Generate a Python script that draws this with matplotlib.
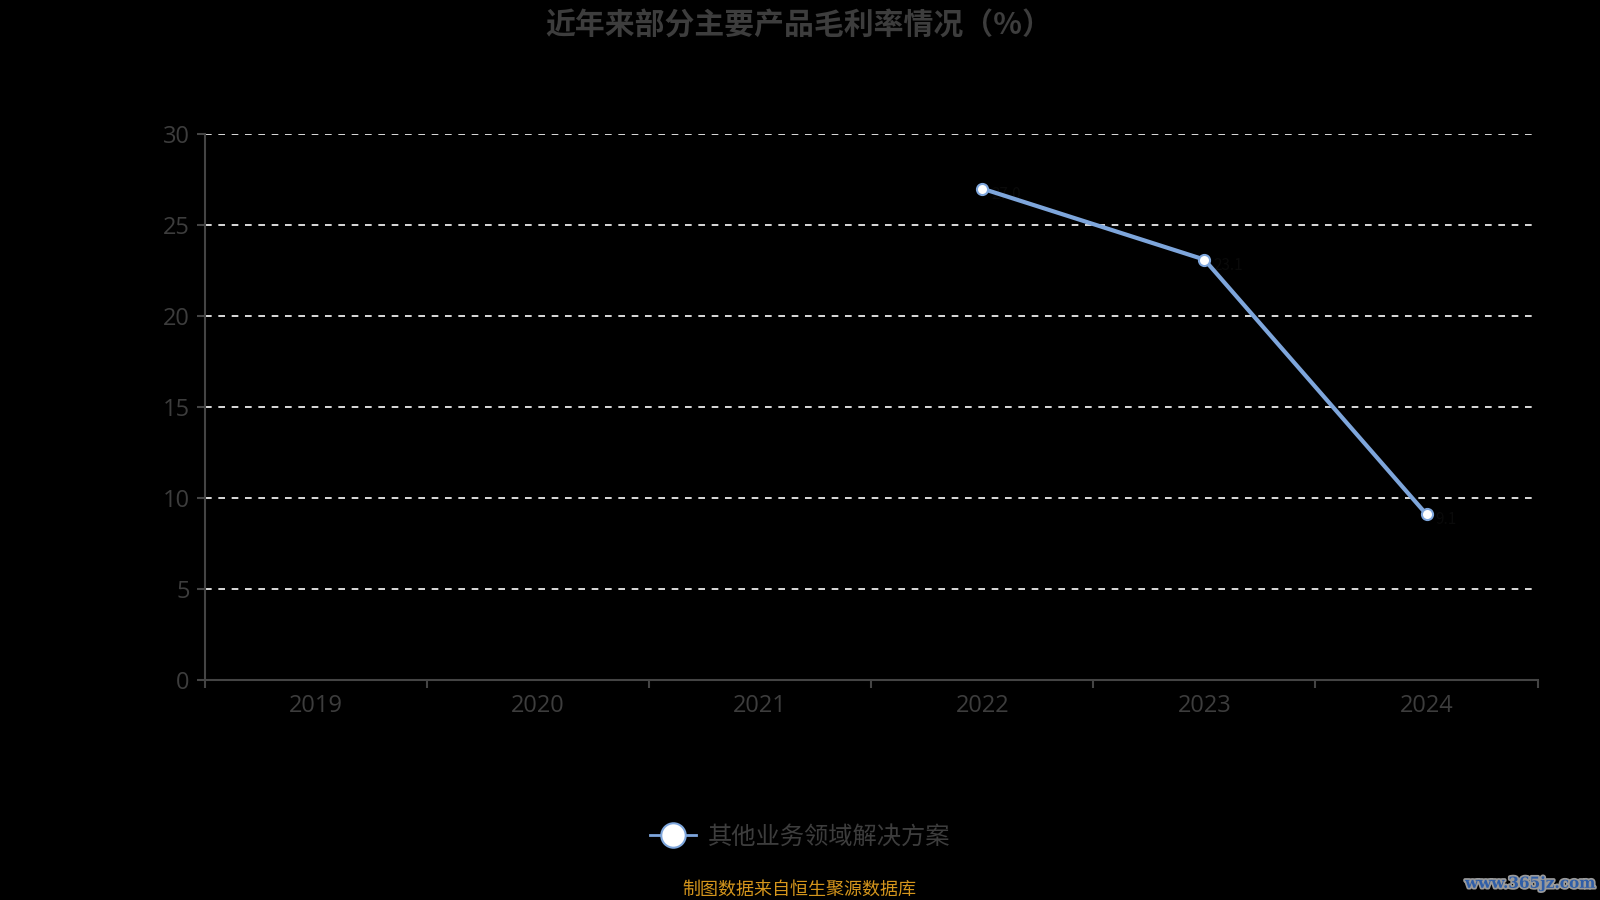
import matplotlib.pyplot as plt
import matplotlib.patheffects as pe
import numpy as np

plt.rcParams['font.family'] = ['Noto Sans CJK SC', 'DejaVu Sans']

years = ['2019', '2020', '2021', '2022', '2023', '2024']
margin = [np.nan, np.nan, np.nan, 27.0, 23.1, 9.1]
series_name = '其他业务领域解决方案'
y_ticks = [0, 5, 10, 15, 20, 25, 30]

line_color = '#7ea6dc'
axis_color = '#444444'
text_color = '#3d3d3d'

fig = plt.figure(figsize=(16, 9), dpi=100, facecolor='black')
ax = fig.add_axes([0.128, 0.2444, 0.833, 0.6067], facecolor='black')

x = np.arange(len(years))
ax.plot(x, margin, color=line_color, linewidth=3, marker='o', markersize=8,
        markerfacecolor='white', markeredgecolor=line_color, markeredgewidth=1.5,
        zorder=3, label=series_name)

# data labels (drawn almost black, hidden under the line as in the original)
for xi, v in zip(x, margin):
    if not np.isnan(v):
        ax.text(xi + 0.04, v - 0.3, f'{v:.1f}', color='#0a0a0a', fontsize=11,
                ha='left', va='center', zorder=2)

ax.set_xlim(-0.5, len(years) - 0.5)
ax.set_ylim(0, 30)
ax.set_yticks(y_ticks)
ax.set_yticklabels([str(t) for t in y_ticks], family=['Open Sans', 'DejaVu Sans'])
for t in y_ticks[1:]:
    ax.axhline(t, color='white', linestyle=(0, (4, 4)), linewidth=1.2, zorder=1)

# category axis: ticks at boundaries, labels centered
ax.set_xticks(np.arange(-0.5, len(years)), minor=False)
ax.set_xticklabels([])
ax.set_xticks(x, minor=True)
ax.set_xticklabels(years, minor=True, family=['Open Sans', 'DejaVu Sans'])
ax.tick_params(axis='x', which='minor', length=0, pad=10, labelsize=17, labelcolor=text_color)
ax.tick_params(axis='x', which='major', length=6, color=axis_color, width=1.5)
ax.tick_params(axis='y', length=6, color=axis_color, width=1.5, labelsize=17,
               labelcolor=text_color, pad=5)

for s in ['top', 'right']:
    ax.spines[s].set_visible(False)
for s in ['left', 'bottom']:
    ax.spines[s].set_color(axis_color)
    ax.spines[s].set_linewidth(1.5)

fig.text(0.4995, 0.972, '近年来部分主要产品毛利率情况（%）', ha='center', va='center',
         fontsize=21.5, fontweight='bold', color=text_color)

leg = fig.legend(loc='center', bbox_to_anchor=(0.5, 0.07), frameon=False,
                 fontsize=17.5, handlelength=1.9, markerscale=2.2, handletextpad=0.5)
for t in leg.get_texts():
    t.set_color(text_color)
for h in leg.legend_handles:
    h.set_linewidth(2)

fig.text(0.4995, 0.012, '制图数据来自恒生聚源数据库', ha='center', va='center',
         fontsize=13, color='#d4951c')

fig.text(0.997, 0.018, 'www.365jz.com', ha='right', va='center', fontsize=11,
         fontweight='bold', color='#2f5ea8', family=['DejaVu Serif'],
         path_effects=[pe.withStroke(linewidth=2.5, foreground='#9a9a9a')])

fig.savefig('out.png', dpi=100, facecolor='black')
